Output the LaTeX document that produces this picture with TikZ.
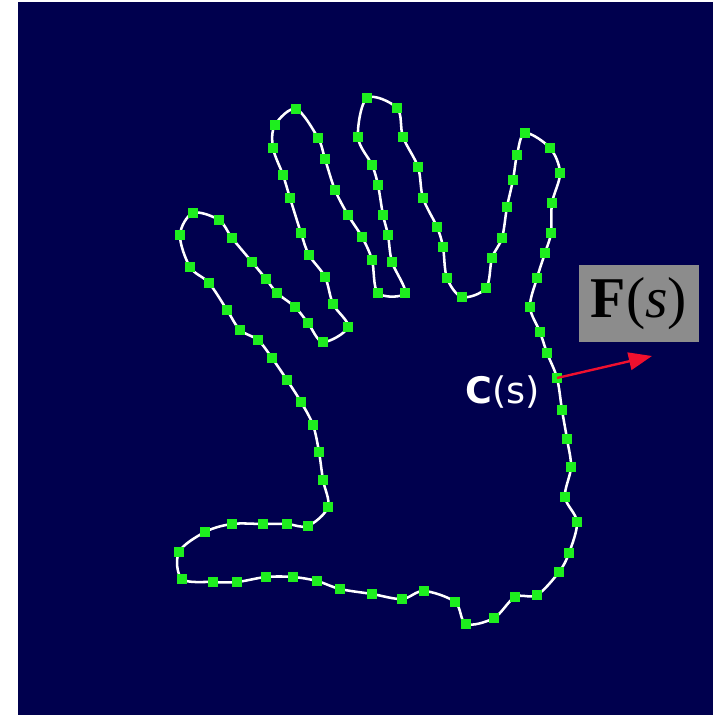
\documentclass[tikz,border=0pt]{standalone}
\usepackage{fontspec}
\usetikzlibrary{arrows.meta}
\newfontfamily\labelfont{DejaVu Sans}
\newfontfamily\forcefont{Liberation Serif}

\begin{document}
\begin{tikzpicture}[x=0.025cm, y=-0.025cm,
    handline/.style={white, line width=1.8pt},
    snaxel/.style={fill=snaxelColour},
    forcearrow/.style={arrowColour, line width=1.7pt, -{Triangle[length=0.58cm, width=0.44cm]}},
    forcelabel/.style={fill=boxColour, text=black, minimum width=3cm, minimum height=1.93cm, inner sep=0pt, font=\forcefont\fontsize{41}{45}\selectfont},
    curvelabel/.style={text=white, inner sep=0pt, font=\labelfont\fontsize{26}{30}\selectfont}]
    % Define colours
    \definecolor{backColour}{HTML}{00004E}
    \definecolor{snaxelColour}{HTML}{1EEE1E}
    \definecolor{arrowColour}{HTML}{F0102E}
    \definecolor{boxColour}{HTML}{8C8C8C}

    % Snake points round the hand, in pixels
    \def\handPoints{179/552, 182/579, 213/582, 237/582, 266/577, 293/577, 317/581, 340/589,
        372/594, 402/599, 424/591, 455/602, 466/624, 494/618, 515/597, 537/595,
        559/572, 569/553, 577/522, 565/497, 571/467, 567/439, 562/410, 557/378,
        547/353, 540/332, 530/307, 537/278, 545/253, 551/233, 552/203, 560/173,
        550/148, 525/133, 517/155, 513/180, 507/207, 502/238, 492/258, 486/288,
        462/297, 447/278, 443/247, 437/227, 423/198, 418/167, 403/137, 397/108,
        367/98, 358/137, 372/165, 378/185, 383/215, 388/235, 392/262, 405/293,
        378/293, 372/260, 362/237, 348/215, 335/190, 325/159, 318/138, 296/109,
        275/125, 273/148, 283/175, 290/198, 301/233, 309/255, 325/277, 333/304,
        348/327, 323/342, 308/323, 295/307, 277/293, 266/279, 252/262, 232/238,
        219/220, 193/213, 180/235, 190/267, 209/283, 227/310, 240/330, 258/340,
        272/358, 287/380, 301/402, 313/425, 319/452, 323/480, 328/507, 308/526,
        287/524, 263/524, 232/524, 205/532}

    % Background
    \useasboundingbox (0,0) rectangle (718,715);
    \fill[backColour] (18,2) rectangle (713,715);

    % Name the snake points and collect them for the curve
    \gdef\handPath{}
    \foreach \px/\py [count=\i] in \handPoints {
        \coordinate (P\i) at (\px,\py);
        \xdef\handPath{\handPath (P\i)}
    }

    % Draw the contour through the points
    \edef\drawHand{\noexpand\draw[handline] plot[smooth cycle, tension=0.55] coordinates {\handPath};}
    \drawHand

    % Draw the snake points on top
    \foreach \px/\py in \handPoints
        \fill[snaxel] (\px-5,\py-5) rectangle (\px+5,\py+5);

    % Force at one point of the curve
    \coordinate (forceTip) at (652,356);
    \draw[forcearrow] (P24) -- (forceTip);
    \node[forcelabel] (force) at (639,303.5) {\textbf{F}(\textit{s})};
    \node[curvelabel] (curve) at (503,392) {\textbf{C}(s)};

\end{tikzpicture}
\end{document}
